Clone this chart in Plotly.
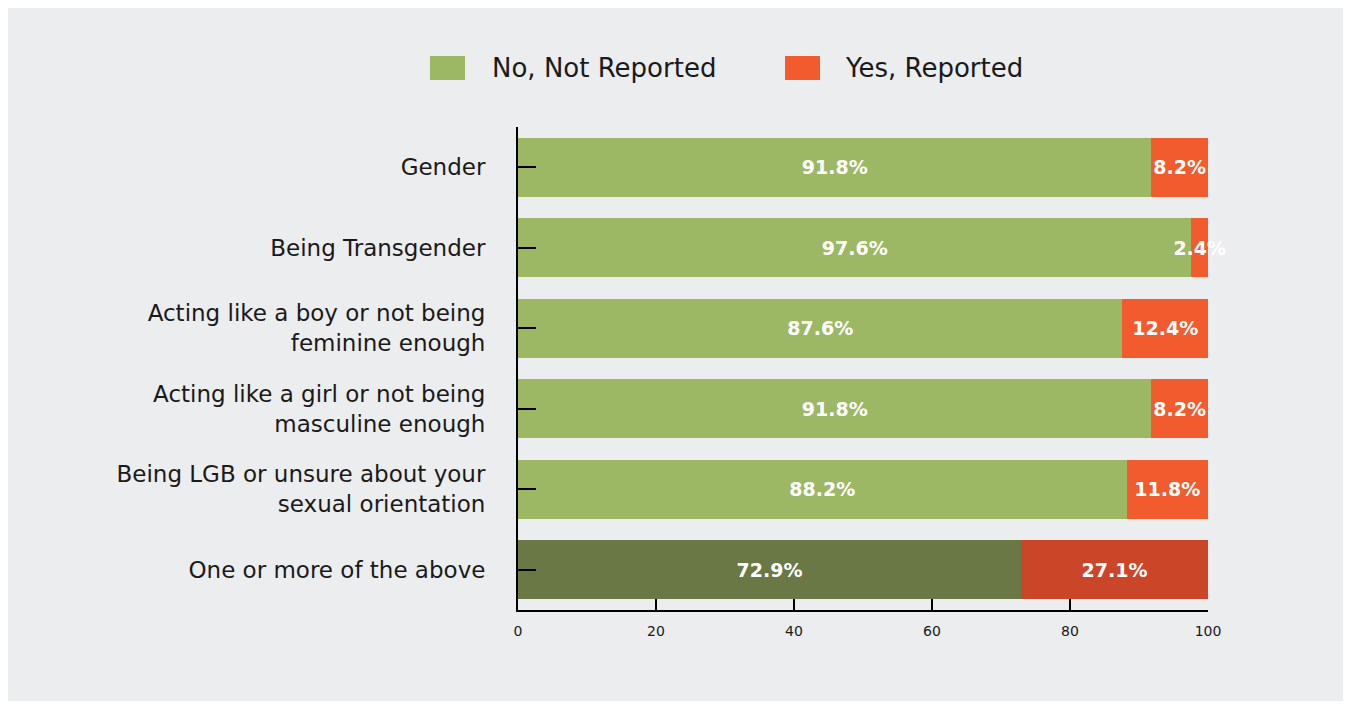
import plotly.graph_objects as go

categories = [
    "Gender",
    "Being Transgender",
    "Acting like a boy or not being<br>feminine enough",
    "Acting like a girl or not being<br>masculine enough",
    "Being LGB or unsure about your<br>sexual orientation",
    "One or more of the above",
]
not_reported = [91.8, 97.6, 87.6, 91.8, 88.2, 72.9]
reported = [8.2, 2.4, 12.4, 8.2, 11.8, 27.1]
x_ticks = [0, 20, 40, 60, 80, 100]

green = "#9DB865"
orange = "#F15B2E"
green_dark = "#6A7846"
orange_dark = "#CB4629"
panel = "#ECEDEF"
ink = "#1A1A1A"
FONT = "DejaVu Sans"

# the page adds an 8px body margin, so lay out in page pixels minus that
OFF = 8
W, H = 1351 - 2 * OFF, 709 - 2 * OFF
ML = 518 - OFF
MT = 127 - OFF
MR = W - (1208 - OFF)
MB = H - (610 - OFF)


def px_x(p):
    return (p - OFF - ML) / (W - ML - MR)


def px_y(p):
    return (H - MB - (p - OFF)) / (H - MT - MB)


green_cols = [green] * (len(categories) - 1) + [green_dark]
orange_cols = [orange] * (len(categories) - 1) + [orange_dark]

label_font = dict(family=FONT, size=19, color="white", weight="bold")

fig = go.Figure()
fig.add_trace(go.Bar(
    y=categories, x=not_reported, orientation="h", name="No, Not Reported",
    marker=dict(color=green_cols, line=dict(width=0)),
    texttemplate="%{x:.1f}%", textposition="inside", insidetextanchor="middle",
    textangle=0, constraintext="none", cliponaxis=False,
    textfont=label_font, showlegend=False,
))
fig.add_trace(go.Bar(
    y=categories, x=reported, orientation="h", name="Yes, Reported",
    marker=dict(color=orange_cols, line=dict(width=0)),
    texttemplate="%{x:.1f}%", textposition="inside", insidetextanchor="middle",
    textangle=0, constraintext="none", cliponaxis=False,
    textfont=label_font, showlegend=False,
))

# background panel
fig.add_shape(type="rect", xref="paper", yref="paper",
              x0=px_x(5), x1=px_x(1347), y0=px_y(705), y1=px_y(6),
              fillcolor=panel, line=dict(width=0), layer="below")

# legend drawn by hand so the swatches can be large
legend_items = [("No, Not Reported", green, 430, 490), ("Yes, Reported", orange, 785, 843)]
for label, col, sx, tx in legend_items:
    fig.add_shape(type="rect", xref="paper", yref="paper",
                  x0=px_x(sx), x1=px_x(sx + 35), y0=px_y(80), y1=px_y(56),
                  fillcolor=col, line=dict(width=0))
    fig.add_annotation(text=label, xref="paper", yref="paper",
                       x=px_x(tx), y=px_y(68), xanchor="left", yanchor="middle",
                       showarrow=False, font=dict(family=FONT, size=26, color=ink))

fig.update_layout(
    barmode="stack",
    bargap=0.267,
    width=W, height=H,
    margin=dict(l=ML, r=MR, t=MT, b=MB, pad=0),
    paper_bgcolor="white",
    plot_bgcolor="rgba(0,0,0,0)",
    font=dict(family=FONT, color=ink),
)
fig.update_xaxes(
    range=[0, 100], tickvals=x_ticks, showgrid=False, zeroline=False,
    showline=True, linecolor="black", linewidth=2,
    ticks="inside", ticklen=11, tickwidth=2, tickcolor="black",
    tickfont=dict(size=14, color=ink), ticklabelstandoff=7,
)
fig.update_yaxes(
    autorange="reversed", showgrid=False, zeroline=False,
    showline=True, linecolor="black", linewidth=2,
    ticks="inside", ticklen=18, tickwidth=2, tickcolor="black",
    tickfont=dict(size=23, color=ink), ticklabelstandoff=26,
)

fig.write_html("out.html")
